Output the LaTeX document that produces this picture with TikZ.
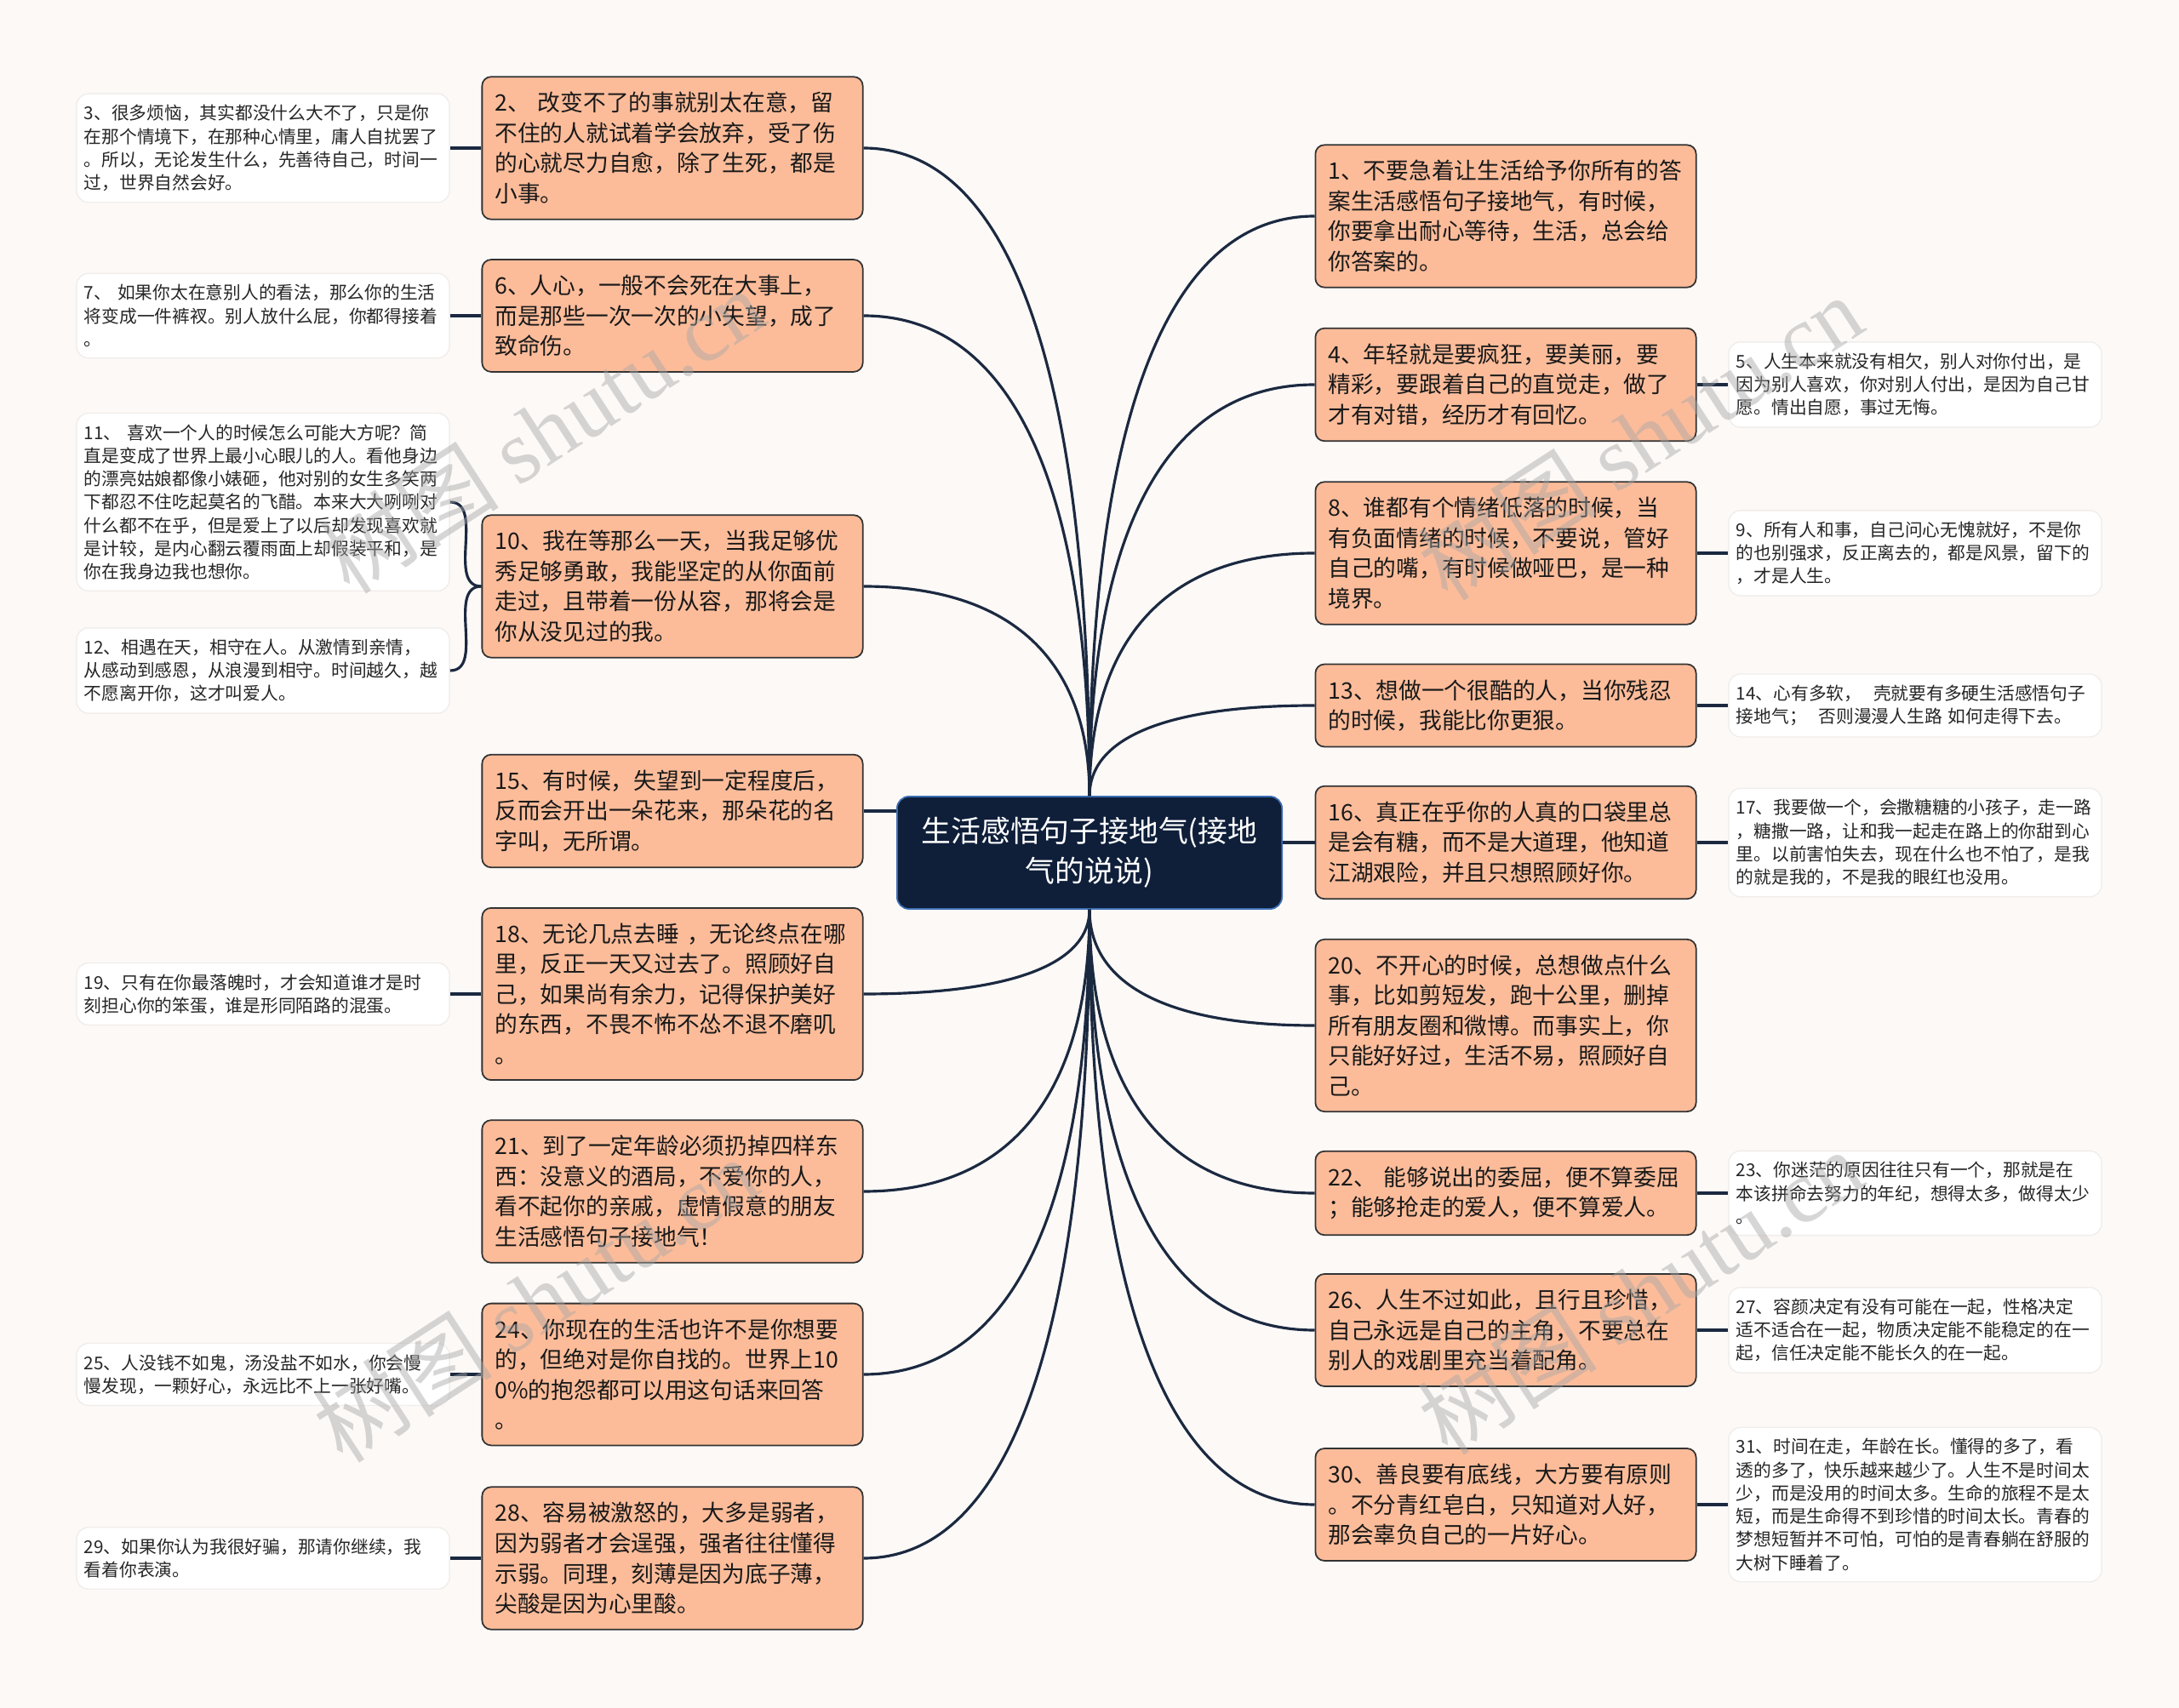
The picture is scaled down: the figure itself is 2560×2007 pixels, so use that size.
\documentclass[tikz,border=0pt]{standalone}
\usepackage{fontspec}
\usepackage{tikz}
\usetikzlibrary{calc}
\newfontfamily\cjk{Noto Sans CJK SC}
\newfontfamily\wmserif{Liberation Serif}
\definecolor{bgcol}{RGB}{252,249,247}
\definecolor{peach}{RGB}{252,188,154}
\definecolor{navy}{RGB}{15,31,58}
\definecolor{rootedge}{RGB}{60,110,180}
\definecolor{wirecol}{RGB}{27,41,64}
\definecolor{leafedge}{RGB}{241,237,234}

\begin{document}
\begin{tikzpicture}[x=0.01cm, y=-0.01cm,
  root/.style={rectangle, rounded corners=4pt, fill=navy, draw=rootedge,
    line width=0.5pt, text=white, align=center, minimum width=4.52cm,
    minimum height=1.32cm, font=\cjk\fontsize{9.9pt}{13.3pt}\selectfont},
  idea/.style={rectangle, rounded corners=3pt, fill=peach, draw=black!80,
    line width=0.5pt, text=black!90, align=left, text width=4.17cm,
    inner xsep=0.15cm, inner ysep=0.18cm,
    font=\cjk\fontsize{7.6pt}{10.1pt}\selectfont},
  leaf/.style={rectangle, rounded corners=4pt, fill=white, draw=leafedge,
    line width=0.4pt, text=black!85, align=left, text width=4.2cm,
    inner xsep=0.09cm, inner ysep=0.13cm,
    font=\cjk\fontsize{5.9pt}{7.75pt}\selectfont},
  link/.style={draw=wirecol, line width=0.9pt},
  wmark/.style={text=gray!70, text opacity=0.45, rotate=33,
    font=\cjk\fontsize{30pt}{30pt}\selectfont}]

  \fill[bgcol] (0,0) rectangle (2560,2007);
  \useasboundingbox (0,0) rectangle (2560,2007);

  \node[root] (root) at (1280,1002) {生活感悟句子接地气(接地\\气的说说)};

  % left branch
  \node[idea] (b2) at (790,174) {2、 改变不了的事就别太在意，留\\不住的人就试着学会放弃，受了伤\\的心就尽力自愈，除了生死，都是\\小事。};
  \node[idea] (b6) at (790,371) {6、人心，一般不会死在大事上，\\而是那些一次一次的小失望，成了\\致命伤。};
  \node[idea] (b10) at (790,689) {10、我在等那么一天，当我足够优\\秀足够勇敢，我能坚定的从你面前\\走过，且带着一份从容，那将会是\\你从没见过的我。};
  \node[idea] (b15) at (790,953) {15、有时候，失望到一定程度后，\\反而会开出一朵花来，那朵花的名\\字叫，无所谓。};
  \node[idea] (b18) at (790,1168) {18、无论几点去睡 ，无论终点在哪\\里，反正一天又过去了。照顾好自\\己，如果尚有余力，记得保护美好\\的东西，不畏不怖不怂不退不磨叽\\。};
  \node[idea] (b21) at (790,1400) {21、到了一定年龄必须扔掉四样东\\西：没意义的酒局，不爱你的人，\\看不起你的亲戚，虚情假意的朋友\\生活感悟句子接地气！};
  \node[idea] (b24) at (790,1615) {24、你现在的生活也许不是你想要\\的，但绝对是你自找的。世界上10\\0\%的抱怨都可以用这句话来回答\\。};
  \node[idea] (b28) at (790,1831) {28、容易被激怒的，大多是弱者，\\因为弱者才会逞强，强者往往懂得\\示弱。同理，刻薄是因为底子薄，\\尖酸是因为心里酸。};

  % right branch
  \node[idea] (b1) at (1769,254) {1、不要急着让生活给予你所有的答\\案生活感悟句子接地气，有时候，\\你要拿出耐心等待，生活，总会给\\你答案的。};
  \node[idea] (b4) at (1769,452) {4、年轻就是要疯狂，要美丽，要\\精彩，要跟着自己的直觉走，做了\\才有对错，经历才有回忆。};
  \node[idea] (b8) at (1769,650) {8、谁都有个情绪低落的时候，当\\有负面情绪的时候，不要说，管好\\自己的嘴，有时候做哑巴，是一种\\境界。};
  \node[idea] (b13) at (1769,829) {13、想做一个很酷的人，当你残忍\\的时候，我能比你更狠。};
  \node[idea] (b16) at (1769,990) {16、真正在乎你的人真的口袋里总\\是会有糖，而不是大道理，他知道\\江湖艰险，并且只想照顾好你。};
  \node[idea] (b20) at (1769,1205) {20、不开心的时候，总想做点什么\\事，比如剪短发，跑十公里，删掉\\所有朋友圈和微博。而事实上，你\\只能好好过，生活不易，照顾好自\\己。};
  \node[idea] (b22) at (1769,1402) {22、 能够说出的委屈，便不算委屈\\；能够抢走的爱人，便不算爱人。};
  \node[idea] (b26) at (1769,1563) {26、人生不过如此，且行且珍惜，\\自己永远是自己的主角，不要总在\\别人的戏剧里充当着配角。};
  \node[idea] (b30) at (1769,1768) {30、善良要有底线，大方要有原则\\。不分青红皂白，只知道对人好，\\那会辜负自己的一片好心。};

  % leaves, left
  \node[leaf] (l3) at (309,174) {3、很多烦恼，其实都没什么大不了，只是你\\在那个情境下，在那种心情里，庸人自扰罢了\\。所以，无论发生什么，先善待自己，时间一\\过，世界自然会好。};
  \node[leaf] (l7) at (309,371) {7、 如果你太在意别人的看法，那么你的生活\\将变成一件裤衩。别人放什么屁，你都得接着\\。};
  \node[leaf] (l11) at (309,590) {11、 喜欢一个人的时候怎么可能大方呢？简\\直是变成了世界上最小心眼儿的人。看他身边\\的漂亮姑娘都像小婊砸，他对别的女生多笑两\\下都忍不住吃起莫名的飞醋。本来大大咧咧对\\什么都不在乎，但是爱上了以后却发现喜欢就\\是计较，是内心翻云覆雨面上却假装平和，是\\你在我身边我也想你。};
  \node[leaf] (l12) at (309,788) {12、相遇在天，相守在人。从激情到亲情，\\从感动到感恩，从浪漫到相守。时间越久，越\\不愿离开你，这才叫爱人。};
  \node[leaf] (l19) at (309,1168) {19、只有在你最落魄时，才会知道谁才是时\\刻担心你的笨蛋，谁是形同陌路的混蛋。};
  \node[leaf] (l25) at (309,1615) {25、人没钱不如鬼，汤没盐不如水，你会慢\\慢发现，一颗好心，永远比不上一张好嘴。};
  \node[leaf] (l29) at (309,1831) {29、如果你认为我很好骗，那请你继续，我\\看着你表演。};

  % leaves, right
  \node[leaf] (l5) at (2250,452) {5、人生本来就没有相欠，别人对你付出，是\\因为别人喜欢，你对别人付出，是因为自己甘\\愿。情出自愿，事过无悔。};
  \node[leaf] (l9) at (2250,650) {9、所有人和事，自己问心无愧就好，不是你\\的也别强求，反正离去的，都是风景，留下的\\，才是人生。};
  \node[leaf] (l14) at (2250,829) {14、心有多软，\ \ 壳就要有多硬生活感悟句子\\接地气；\ \ 否则漫漫人生路 如何走得下去。};
  \node[leaf] (l17) at (2250,990) {17、我要做一个，会撒糖糖的小孩子，走一路\\，糖撒一路，让和我一起走在路上的你甜到心\\里。以前害怕失去，现在什么也不怕了，是我\\的就是我的，不是我的眼红也没用。};
  \node[leaf] (l23) at (2250,1402) {23、你迷茫的原因往往只有一个，那就是在\\本该拼命去努力的年纪，想得太多，做得太少\\。};
  \node[leaf] (l27) at (2250,1563) {27、容颜决定有没有可能在一起，性格决定\\适不适合在一起，物质决定能不能稳定的在一\\起，信任决定能不能长久的在一起。};
  \node[leaf] (l31) at (2250,1768) {31、时间在走，年龄在长。懂得的多了，看\\透的多了，快乐越来越少了。人生不是时间太\\少，而是没用的时间太多。生命的旅程不是太\\短，而是生命得不到珍惜的时间太长。青春的\\梦想短暂并不可怕，可怕的是青春躺在舒服的\\大树下睡着了。};

  % root to ideas
  \foreach \b/\a/\s in {b2/east/north, b6/east/north, b10/east/north,
      b18/east/south, b21/east/south, b24/east/south, b28/east/south,
      b1/west/north, b4/west/north, b8/west/north, b13/west/north,
      b20/west/south, b22/west/south, b26/west/south, b30/west/south} {
    \coordinate (k) at (root.\s|-\b.\a);
    \draw[link] (root.\s) .. controls ($(root.\s)!0.6!(k)$)
      and ($(\b.\a)!0.7!(k)$) .. (\b.\a);
  }
  \draw[link] (b15.east) -- (b15.east-|root.west);
  \draw[link] (b16.west) -- (b16.west-|root.east);

  % ideas to leaves
  \foreach \b/\l in {b2/l3, b6/l7, b18/l19, b24/l25, b28/l29}
    \draw[link] (\b.west) -- (\b.west-|\l.east);
  \foreach \b/\l in {b4/l5, b8/l9, b13/l14, b16/l17, b22/l23, b26/l27, b30/l31}
    \draw[link] (\b.east) -- (\b.east-|\l.west);
  \draw[link] (b10.west) to[out=180, in=0] (l11.east);
  \draw[link] (b10.west) to[out=180, in=0] (l12.east);

  % watermark
  \foreach \x/\y/\n in {637/506/1, 1927/514/2, 1927/1518/3, 629/1527/4}
    \node[wmark] (wm\n) at (\x,\y) {树图 {\wmserif shutu.cn}};
\end{tikzpicture}
\end{document}
